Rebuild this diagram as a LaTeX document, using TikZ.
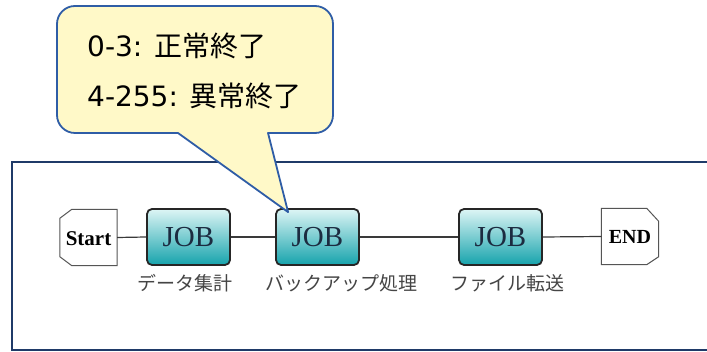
\documentclass[tikz,border=0pt]{standalone}
\usepackage{fontspec}
\usetikzlibrary{calc}
\newfontfamily\jpfont{Noto Sans CJK JP}
\newfontfamily\latfont{DejaVu Sans}
\newfontfamily\jobserif{Liberation Serif}
\definecolor{framenavy}{HTML}{1F3A68}
\definecolor{callblue}{HTML}{2F5DA6}
\definecolor{callfill}{HTML}{FFF9C8}
\definecolor{jobtop}{HTML}{DDF5F5}
\definecolor{jobbot}{HTML}{16A3AC}
\definecolor{jobtext}{HTML}{1C2B40}
\definecolor{labgray}{HTML}{454545}
\definecolor{termgray}{HTML}{555555}
\definecolor{conngray}{HTML}{3A3A3A}
\tikzset{
  jobbox/.style={rounded corners=5pt, draw=black!85, line width=1.8pt,
    top color=jobtop, bottom color=jobbot, minimum width=83pt, minimum height=56pt,
    inner sep=0pt, text=jobtext, font=\jobserif\fontsize{29}{29}\selectfont},
  termnode/.style={minimum width=57pt, minimum height=56pt, inner sep=0pt,
    font=\jobserif\bfseries\fontsize{21}{21}\selectfont},
  termline/.style={draw=termgray, fill=white, line width=1pt},
  joblabel/.style={anchor=west, inner sep=0pt, text=labgray,
    font=\jpfont\fontsize{19}{19}\selectfont},
  conn/.style={draw=conngray, line width=1.2pt},
  calltext/.style={anchor=base west, inner sep=0pt,
    font=\jpfont\fontsize{28}{28}\selectfont},
}
\begin{document}
\begin{tikzpicture}[x=1pt,y=-1pt]
\fill[white] (0,0) rectangle (707,352);
\useasboundingbox (0,0) rectangle (707,352);
% frame
\draw[framenavy, line width=2pt] (12,162) rectangle (730,350);
% nodes
\node[termnode] (s) at (88.5,237.5) {};
\draw[termline] ($(s.north west)+(12,0)$) -- (s.north east) -- (s.south east)
  -- ($(s.south west)+(12,0)$) -- ($(s.south west)+(0,-9)$) -- ($(s.north west)+(0,9)$) -- cycle;
\node[termnode] (st) at ($(s.center)+(0,1)$) {Start};
\node[jobbox] (j1) at (188.5,237) {JOB};
\node[jobbox] (j2) at (317.5,237) {JOB};
\node[jobbox] (j3) at (500.5,237) {JOB};
\node[termnode] (e) at (630,236.5) {};
\draw[termline] (e.north west) -- ($(e.north east)+(-12,0)$) -- ($(e.north east)+(0,13)$)
  -- ($(e.south east)+(0,-8)$) -- ($(e.south east)+(-12,0)$) -- (e.south west) -- cycle;
\node[termnode, font=\jobserif\bfseries\fontsize{20}{20}\selectfont] (en) at (e.center) {END};
% connectors
\draw[conn] (s.east) -- (j1.west);
\draw[conn] (j1.east) -- (j2.west);
\draw[conn] (j2.east) -- (j3.west);
\draw[conn] (j3.east) -- (e.west);
% labels
\node[joblabel] (l1) at ($(j1.south west)+(-9,17)$) {データ集計};
\node[joblabel] (l2) at ($(j2.south west)+(-10,17)$) {バックアップ処理};
\node[joblabel] (l3) at ($(j3.south west)+(-8,17)$) {ファイル転送};
% callout
\coordinate (tip) at ($(j2.north west)+(13,4)$);
\draw[callblue, fill=callfill, line width=1.8pt, line join=round]
  (178,133) [rounded corners=18pt] -- (57,133) -- (57,6) -- (333,6) -- (333,133)
  [sharp corners] -- (268,133) -- (tip) -- cycle;
\node[calltext] (c1) at (87,57) {{\latfont 0-3: }正常終了};
\node[calltext] (c2) at (87,107) {{\latfont 4-255: }異常終了};
\end{tikzpicture}
\end{document}
